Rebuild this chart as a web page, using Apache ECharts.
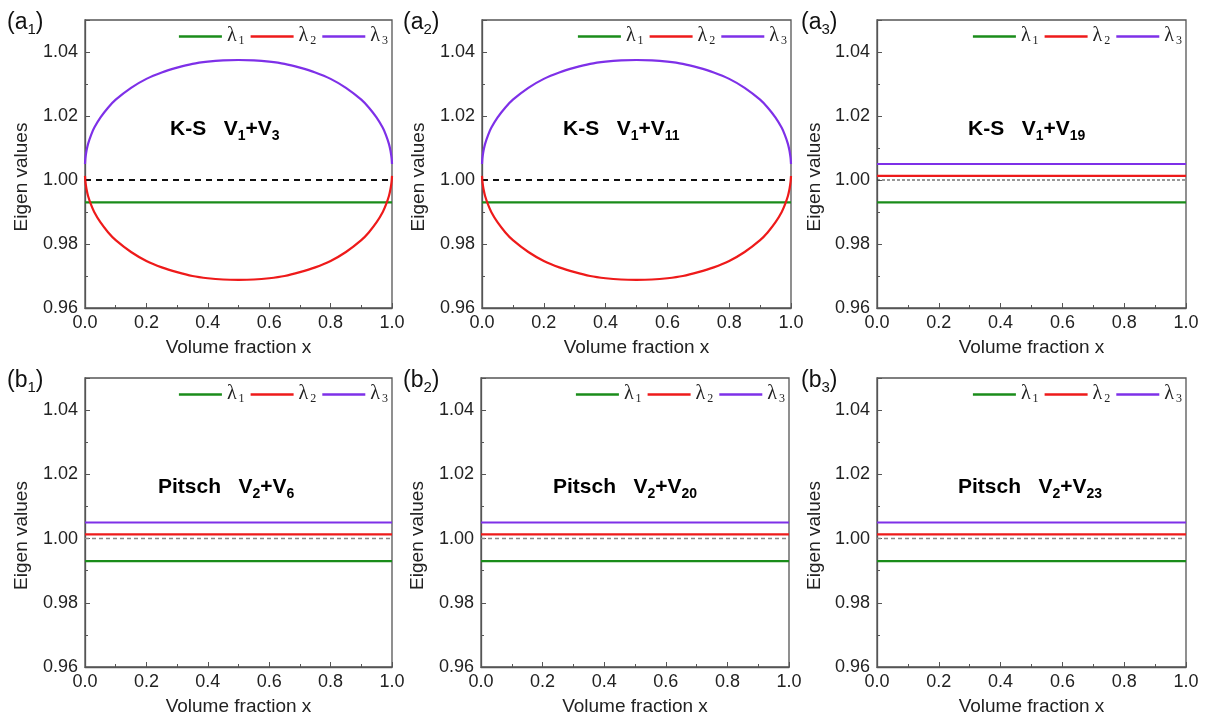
<!DOCTYPE html>
<html>
<head>
<meta charset="utf-8">
<script src="https://cdn.jsdelivr.net/npm/echarts@6/dist/echarts.min.js"></script>
<style>html,body{margin:0;padding:0;background:#fff}#c{width:1207px;height:720px}</style>
</head>
<body>
<div id="c"></div>
<script>
// ---- data ----
const xCurve = [0,0.001,0.0025,0.005,0.01,0.02,0.03,0.05,0.075,0.1,0.15,0.2,0.25,0.3,0.35,0.4,0.45,0.5,0.55,0.6,0.65,0.7,0.75,0.8,0.85,0.9,0.925,0.95,0.97,0.98,0.99,0.995,0.9975,0.999,1];
const ksLam1 = [0.993,0.993,0.993,0.993,0.993,0.993,0.993,0.993,0.993,0.993,0.993,0.993,0.993,0.993,0.993,0.993,0.993,0.993,0.993,0.993,0.993,0.993,0.993,0.993,0.993,0.993,0.993,0.993,0.993,0.993,0.993,0.993,0.993,0.993,0.993];
const ksLam2 = [1.0013,0.9998,0.9986,0.9971,0.9950,0.9922,0.9900,0.9868,0.9837,0.9812,0.9775,0.9747,0.9727,0.9712,0.9700,0.9693,0.9689,0.9688,0.9689,0.9693,0.9700,0.9712,0.9727,0.9747,0.9775,0.9812,0.9837,0.9868,0.9900,0.9922,0.9950,0.9971,0.9986,0.9998,1.0013];
const ksLam3 = [1.0050,1.0065,1.0077,1.0092,1.0113,1.0141,1.0163,1.0195,1.0226,1.0251,1.0288,1.0316,1.0336,1.0351,1.0363,1.0370,1.0374,1.0375,1.0374,1.0370,1.0363,1.0351,1.0336,1.0316,1.0288,1.0251,1.0226,1.0195,1.0163,1.0141,1.0113,1.0092,1.0077,1.0065,1.0050];
const xFlat = [0, 1];
const flatLam1 = [0.993, 0.993];
const flatLam2 = [1.0013, 1.0013];
const flatLam3 = [1.005, 1.005];
const refOne = [1.0, 1.0];
const seriesNames = ['λ1', 'λ2', 'λ3'];
const panelLetters = ['a', 'a', 'a', 'b', 'b', 'b'];
const panelIdx = ['1', '2', '3', '1', '2', '3'];
const methods = ['K-S', 'K-S', 'K-S', 'Pitsch', 'Pitsch', 'Pitsch'];
const variantA = ['1', '1', '1', '2', '2', '2'];
const variantB = ['3', '11', '19', '6', '20', '23'];
const xTicks = [0, 0.2, 0.4, 0.6, 0.8, 1.0];
const yTicks = [0.96, 0.98, 1.00, 1.02, 1.04];

// ---- layout ----
const grids = [
  {left: 85, top: 20, width: 307, height: 288},
  {left: 482, top: 20, width: 309, height: 288},
  {left: 877, top: 20, width: 309, height: 288},
  {left: 85, top: 378, width: 307, height: 289},
  {left: 481, top: 378, width: 308, height: 289},
  {left: 877, top: 378, width: 309, height: 289}
];
const legendRight = [819, 420, 25, 819, 422, 25];
const annotLeft = [170, 563, 968, 158, 553, 958];
const yNameX = [22, 419, 815, 22, 418, 815];
const labelLeft = [7, 403, 801, 7, 403, 801];
const colors = ['#1a8c1a', '#ee1a1a', '#7e30e8'];
const FONT = 'Liberation Sans';

const option = {
  animation: false,
  backgroundColor: '#fff',
  grid: [], xAxis: [], yAxis: [], series: [], legend: [], title: [], graphic: []
};

function pairs(xs, ys) { return xs.map((x, i) => [x, ys[i]]); }

grids.forEach((g, i) => {
  option.grid.push(Object.assign({show: true, borderColor: '#555', borderWidth: 1.3, backgroundColor: 'transparent'}, g));
  option.xAxis.push({
    type: 'value', gridIndex: i, min: 0, max: 1, interval: 0.2,
    name: 'Volume fraction x', nameLocation: 'middle', nameGap: 30,
    nameTextStyle: {fontFamily: FONT, fontSize: 19, color: '#222'},
    axisLine: {show: true, lineStyle: {color: '#555', width: 1.3}},
    axisTick: {show: true, inside: true, length: 5, lineStyle: {color: '#555'}},
    minorTick: {show: true, splitNumber: 2, length: 3, lineStyle: {color: '#555'}},
    splitLine: {show: false},
    axisLabel: {fontFamily: FONT, fontSize: 18, color: '#222', margin: 6,
      formatter: v => v.toFixed(1)}
  });
  option.yAxis.push({
    type: 'value', gridIndex: i, min: 0.96, max: 1.05, interval: 0.02,
    axisLine: {show: true, lineStyle: {color: '#555', width: 1.3}},
    axisTick: {show: true, inside: true, length: 5, lineStyle: {color: '#555'}},
    minorTick: {show: true, splitNumber: 2, length: 3, lineStyle: {color: '#555'}},
    splitLine: {show: false},
    axisLabel: {fontFamily: FONT, fontSize: 18, color: '#222', margin: 7, showMaxLabel: false,
      formatter: v => yTicks.some(t => Math.abs(t - v) < 1e-6) ? v.toFixed(2) : ''}
  });
  const curved = i < 2;
  const ys = curved ? [ksLam1, ksLam2, ksLam3] : [flatLam1, flatLam2, flatLam3];
  const xs = curved ? xCurve : xFlat;
  option.series.push({
    type: 'line', xAxisIndex: i, yAxisIndex: i, symbol: 'none', silent: true, z: 1,
    data: pairs(xFlat, refOne),
    lineStyle: curved ? {color: '#111', width: 1.8, type: [6, 5]}
      : (i === 2 ? {color: '#333', width: 1, type: [3, 2]} : {color: '#888', width: 1.4, type: [4, 3]})
  });
  ys.forEach((arr, k) => {
    option.series.push({
      name: seriesNames[k], type: 'line', xAxisIndex: i, yAxisIndex: i,
      symbol: 'none', smooth: curved ? 0.2 : false, z: 3,
      data: pairs(xs, arr),
      itemStyle: {color: colors[k]},
      lineStyle: {color: colors[k], width: 2.2}
    });
  });
  option.legend.push({
    data: seriesNames, right: legendRight[i], top: g.top + 6,
    icon: 'rect', itemWidth: 43, itemHeight: 2.5, itemGap: 6, padding: 0,
    selectedMode: false,
    formatter: n => '{l|λ}{s|' + n.slice(1) + '}',
    textStyle: {color: '#222', rich: {
      l: {fontFamily: 'Liberation Serif', fontSize: 20, lineHeight: 21, verticalAlign: 'top', padding: [0, 0, 4, 0]},
      s: {fontFamily: 'Liberation Serif', fontSize: 12, lineHeight: 12, verticalAlign: 'bottom', padding: [0, 0, 0, 2]}
    }}
  });
  option.title.push({
    text: '{b|' + methods[i] + '   V}{s|' + variantA[i] + '}{b|+V}{s|' + variantB[i] + '}',
    left: annotLeft[i], top: g.top + 99, padding: 0,
    textStyle: {rich: {
      b: {fontFamily: FONT, fontWeight: 'bold', fontSize: 21, color: '#000', lineHeight: 24, verticalAlign: 'top', padding: [0, 0, 4, 0]},
      s: {fontFamily: FONT, fontWeight: 'bold', fontSize: 14, color: '#000', lineHeight: 14, verticalAlign: 'bottom'}
    }}
  });
  option.title.push({
    text: '{m|(' + panelLetters[i] + '}{s|' + panelIdx[i] + '}{m|)}',
    left: labelLeft[i], top: g.top - 9, padding: 0,
    textStyle: {fontWeight: 'normal', rich: {
      m: {fontFamily: FONT, fontWeight: 'normal', fontSize: 23, color: '#111', lineHeight: 26, verticalAlign: 'top', padding: [0, 0, 4, 0]},
      s: {fontFamily: FONT, fontWeight: 'normal', fontSize: 15, color: '#111', lineHeight: 15, verticalAlign: 'bottom'}
    }}
  });
  option.graphic.push({
    type: 'text', x: yNameX[i], y: g.top + g.height / 2 + 13, rotation: Math.PI / 2,
    style: {text: 'Eigen values', fontFamily: FONT, fontSize: 19, fill: '#222', align: 'center', verticalAlign: 'middle'}
  });
});

const chart = echarts.init(document.getElementById('c'), null, {renderer: 'canvas'});
chart.setOption(option);
</script>
</body>
</html>
